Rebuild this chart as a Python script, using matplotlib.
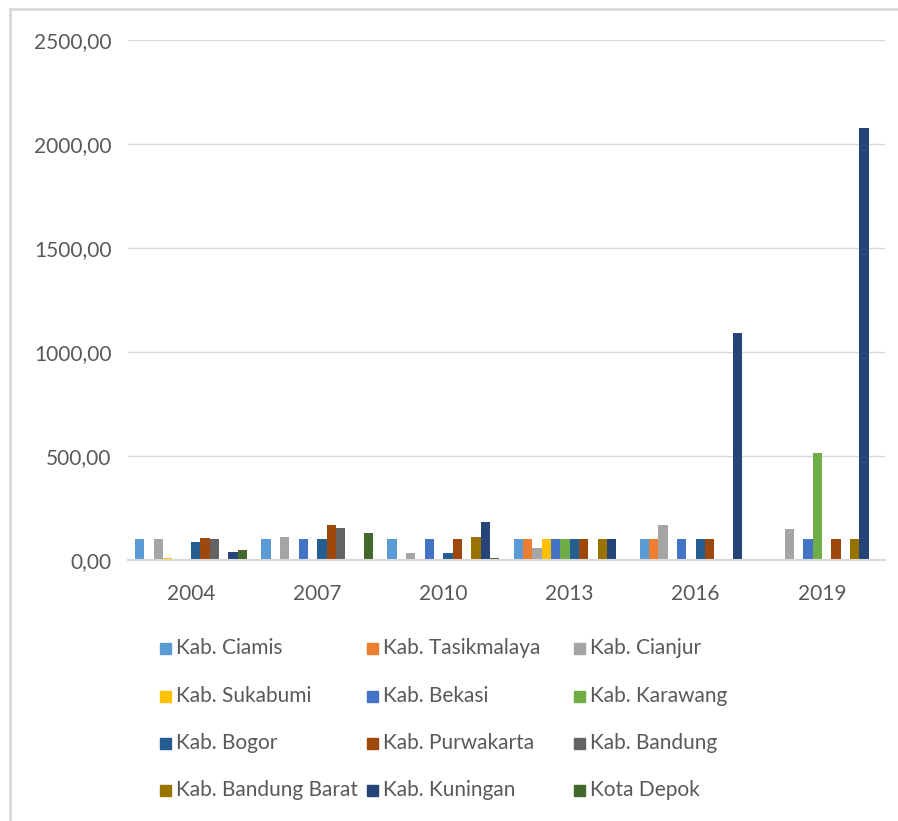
import numpy as np
import matplotlib
matplotlib.use("Agg")
import matplotlib.pyplot as plt
from matplotlib.patches import Rectangle
from matplotlib.lines import Line2D
from matplotlib.ticker import FuncFormatter

years = ["2004", "2007", "2010", "2013", "2016", "2019"]

regions = [
    "Kab. Ciamis", "Kab. Tasikmalaya", "Kab. Cianjur",
    "Kab. Sukabumi", "Kab. Bekasi", "Kab. Karawang",
    "Kab. Bogor", "Kab. Purwakarta", "Kab. Bandung",
    "Kab. Bandung Barat", "Kab. Kuningan", "Kota Depok",
]

# values per region, one per year (0 = no data)
ciamis = [100, 100, 100, 100, 100, 0]
tasikmalaya = [0, 0, 0, 100, 100, 0]
cianjur = [100, 111, 35, 59, 168, 150]
sukabumi = [10, 0, 0, 100, 0, 0]
bekasi = [0, 100, 100, 100, 100, 100]
karawang = [0, 0, 0, 100, 0, 516]
bogor = [85, 100, 35, 100, 100, 0]
purwakarta = [104, 168, 100, 100, 100, 100]
bandung = [100, 154, 0, 0, 0, 0]
bandung_barat = [0, 0, 111, 100, 0, 100]
kuningan = [40, 0, 181, 100, 1090, 2078]
depok = [46, 130, 8, 0, 0, 0]

series = [ciamis, tasikmalaya, cianjur, sukabumi, bekasi, karawang,
          bogor, purwakarta, bandung, bandung_barat, kuningan, depok]

colors = ["#5B9BD5", "#ED7D31", "#A5A5A5", "#FFC000", "#4472C4", "#70AD47",
          "#255E91", "#9E480E", "#636363", "#997300", "#264478", "#43682B"]

plt.rcParams["font.family"] = ["Lato", "DejaVu Sans"]
text_col = "#595959"
grid_col = "#D9D9D9"

W, H = 898, 821
fig = plt.figure(figsize=(W / 100, H / 100), dpi=100)
ax = fig.add_axes([128 / W, 1 - 560 / H, (885 - 128) / W, (560 - 40) / H])

n = len(series)
bar_w = 1 / (n + 1.5)
x = np.arange(len(years))
for j, (vals, col) in enumerate(zip(series, colors)):
    ax.bar(x + (j - (n - 1) / 2) * bar_w, vals, width=bar_w, color=col,
           label=regions[j], zorder=3)

ax.set_xlim(-0.5, len(years) - 0.5)
ax.set_ylim(0, 2500)
ax.set_yticks(np.arange(0, 2501, 500))
ax.yaxis.set_major_formatter(FuncFormatter(lambda v, p: f"{v:.2f}".replace(".", ",")))
ax.set_xticks(x)
ax.set_xticklabels(years)
ax.tick_params(axis="both", length=0, labelsize=15, labelcolor=text_col)
ax.tick_params(axis="y", pad=12)
ax.tick_params(axis="x", pad=17)
ax.grid(axis="y", color=grid_col, linewidth=1, zorder=0)
for s in ["top", "right", "left"]:
    ax.spines[s].set_visible(False)
ax.spines["bottom"].set_color(grid_col)
ax.spines["bottom"].set_linewidth(1.5)
ax.spines["bottom"].set_zorder(4)

# legend laid out row by row, three columns
col_x = [160, 367, 574]
row_y = [648, 696, 743, 790]
sq = 11
for k, (name, col) in enumerate(zip(regions, colors)):
    r, c = divmod(k, 3)
    px, py = col_x[c], row_y[r]
    fig.add_artist(Rectangle((px / W, 1 - (py + sq / 2) / H), sq / W, sq / H,
                             transform=fig.transFigure, color=col))
    fig.text((px + sq + 5) / W, 1 - py / H, name, fontsize=15, color=text_col,
             va="center", ha="left")

# chart frame (top and left edges)
fig.add_artist(Line2D([10 / W, 1], [1 - 9 / H, 1 - 9 / H], color=grid_col,
                      linewidth=2, transform=fig.transFigure))
fig.add_artist(Line2D([10 / W, 10 / W], [0, 1 - 9 / H], color=grid_col,
                      linewidth=2, transform=fig.transFigure))

fig.savefig("out.png", dpi=100, facecolor="white")
